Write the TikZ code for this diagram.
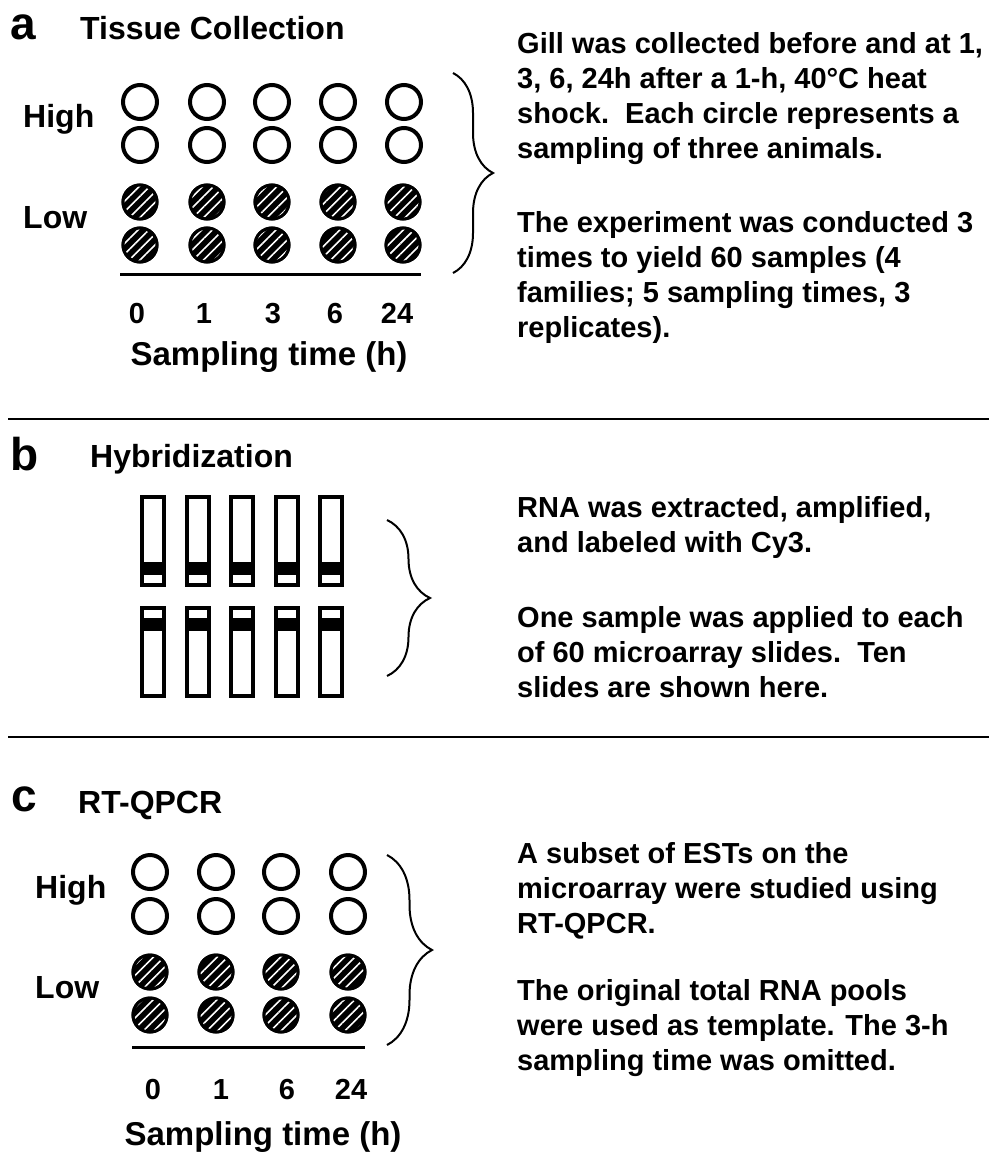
\documentclass[tikz,border=0pt]{standalone}
\usepackage{fontspec}
\setmainfont{Liberation Sans}
\usetikzlibrary{patterns.meta,decorations.pathreplacing}

\tikzset{
  opendot/.style={shape=circle, draw=black, line width=4pt, minimum size=34pt, inner sep=0pt},
  hatchdot/.style={shape=circle, draw=black, line width=3pt, fill=black, minimum size=34pt, inner sep=0pt,
    postaction={pattern={Lines[angle=45,distance=7.5pt,line width=1.6pt]}, pattern color=white},
    postaction={draw=black, line width=3pt}},
  slidetop/.style={draw=black, line width=4pt, minimum width=22pt, minimum height=88pt, inner sep=0pt,
    path picture={\fill[black] ([yshift=10pt]path picture bounding box.south west) rectangle ([yshift=23pt]path picture bounding box.south east);}},
  slidebot/.style={draw=black, line width=4pt, minimum width=22pt, minimum height=88pt, inner sep=0pt,
    path picture={\fill[black] ([yshift=-10pt]path picture bounding box.north west) rectangle ([yshift=-23pt]path picture bounding box.north east);}},
  lettr/.style={anchor=base west, inner sep=0pt, font=\fontsize{46pt}{46pt}\selectfont\bfseries},
  title/.style={anchor=base west, inner sep=0pt, font=\fontsize{32pt}{32pt}\selectfont\bfseries},
  rowlabel/.style={anchor=base west, inner sep=0pt, font=\fontsize{32pt}{32pt}\selectfont\bfseries},
  tick/.style={anchor=base, inner sep=0pt, font=\fontsize{29pt}{29pt}\selectfont\bfseries},
  axislabel/.style={anchor=base, inner sep=0pt, font=\fontsize{33pt}{33pt}\selectfont\bfseries},
  note/.style={anchor=north west, inner sep=0pt, align=left, font=\fontsize{29pt}{35pt}\selectfont\bfseries},
  curly/.style={decorate, line width=2pt},
  baseln/.style={line width=3pt},
  sepln/.style={line width=2pt}
}

\begin{document}
\begin{tikzpicture}[x=1pt,y=-1pt]
    \useasboundingbox (0,0) rectangle (989,1153);

    % panel a
    \node[lettr] (la) at (10,40) {a};
    \node[title] (ta) at (80,40) {Tissue Collection};
    \node[rowlabel] (ahigh) at (23,128) {High};
    \node[rowlabel] (alow) at (23,228) {Low};

    \node[opendot] (a0h1) at (140,102) {};
    \node[opendot] (a1h1) at (207,102) {};
    \node[opendot] (a3h1) at (272,102) {};
    \node[opendot] (a6h1) at (338,102) {};
    \node[opendot] (a24h1) at (404,102) {};
    \node[opendot] (a0h2) at (140,145) {};
    \node[opendot] (a1h2) at (207,145) {};
    \node[opendot] (a3h2) at (272,145) {};
    \node[opendot] (a6h2) at (338,145) {};
    \node[opendot] (a24h2) at (404,145) {};
    \node[hatchdot] (a0l1) at (140,202) {};
    \node[hatchdot] (a1l1) at (207,202) {};
    \node[hatchdot] (a3l1) at (272,202) {};
    \node[hatchdot] (a6l1) at (338,202) {};
    \node[hatchdot] (a24l1) at (403,202) {};
    \node[hatchdot] (a0l2) at (140,245) {};
    \node[hatchdot] (a1l2) at (207,245) {};
    \node[hatchdot] (a3l2) at (272,245) {};
    \node[hatchdot] (a6l2) at (338,245) {};
    \node[hatchdot] (a24l2) at (403,245) {};

    \coordinate (abase0) at (120,274);
    \coordinate (abase1) at (421,274);
    \draw[baseln] (abase0) -- (abase1);

    \node[tick] (at0) at (137,323) {0};
    \node[tick] (at1) at (204,323) {1};
    \node[tick] (at3) at (273,323) {3};
    \node[tick] (at6) at (335,323) {6};
    \node[tick] (at24) at (397,323) {24};
    \node[axislabel] (atime) at (269,365) {Sampling time (h)};

    \coordinate (abr0) at (453,73);
    \coordinate (abr1) at (453,273);
    \draw[curly, decoration={brace, amplitude=40pt}] (abr0) -- (abr1);

    \node[note] (anote1) at (517,32) {Gill was collected before and at 1,\\3, 6, 24h after a 1-h, 40°C heat\\shock.\ \ Each circle represents a\\sampling of three animals.};
    \node[note] (anote2) at (517,211) {The experiment was conducted 3\\times to yield 60 samples (4\\families; 5 sampling times, 3\\replicates).};

    \coordinate (sep1a) at (8,419);
    \coordinate (sep1b) at (989,419);
    \draw[sepln] (sep1a) -- (sep1b);

    % panel b
    \node[lettr] (lb) at (10,470) {b};
    \node[title] (tb) at (90,467) {Hybridization};

    \node[slidetop] (b0t) at (153,541) {};
    \node[slidetop] (b1t) at (198,541) {};
    \node[slidetop] (b3t) at (242,541) {};
    \node[slidetop] (b6t) at (287,541) {};
    \node[slidetop] (b24t) at (331,541) {};
    \node[slidebot] (b0b) at (153,652) {};
    \node[slidebot] (b1b) at (198,652) {};
    \node[slidebot] (b3b) at (242,652) {};
    \node[slidebot] (b6b) at (287,652) {};
    \node[slidebot] (b24b) at (331,652) {};

    \coordinate (bbr0) at (387,520);
    \coordinate (bbr1) at (387,676);
    \draw[curly, decoration={brace, amplitude=43pt}] (bbr0) -- (bbr1);

    \node[note] (bnote1) at (517,496) {RNA was extracted, amplified,\\and labeled with Cy3.};
    \node[note] (bnote2) at (517,606) {One sample was applied to each\\of 60 microarray slides.\ \ Ten\\slides are shown here.};

    \coordinate (sep2a) at (8,737);
    \coordinate (sep2b) at (989,737);
    \draw[sepln] (sep2a) -- (sep2b);

    % panel c
    \node[lettr] (lc) at (11,811) {c};
    \node[title] (tc) at (78,813) {RT-QPCR};
    \node[rowlabel] (chigh) at (35,898) {High};
    \node[rowlabel] (clow) at (35,998) {Low};

    \node[opendot] (c0h1) at (150,872) {};
    \node[opendot] (c1h1) at (216,872) {};
    \node[opendot] (c6h1) at (281,872) {};
    \node[opendot] (c24h1) at (348,872) {};
    \node[opendot] (c0h2) at (150,916) {};
    \node[opendot] (c1h2) at (216,916) {};
    \node[opendot] (c6h2) at (281,916) {};
    \node[opendot] (c24h2) at (348,916) {};
    \node[hatchdot] (c0l1) at (150,972) {};
    \node[hatchdot] (c1l1) at (216,972) {};
    \node[hatchdot] (c6l1) at (281,972) {};
    \node[hatchdot] (c24l1) at (348,972) {};
    \node[hatchdot] (c0l2) at (150,1015) {};
    \node[hatchdot] (c1l2) at (216,1015) {};
    \node[hatchdot] (c6l2) at (281,1015) {};
    \node[hatchdot] (c24l2) at (348,1015) {};

    \coordinate (cbase0) at (132,1047);
    \coordinate (cbase1) at (365,1047);
    \draw[baseln] (cbase0) -- (cbase1);

    \node[tick] (ct0) at (153,1099) {0};
    \node[tick] (ct1) at (221,1099) {1};
    \node[tick] (ct6) at (287,1099) {6};
    \node[tick] (ct24) at (351,1099) {24};
    \node[axislabel] (ctime) at (263,1145) {Sampling time (h)};

    \coordinate (cbr0) at (387,855);
    \coordinate (cbr1) at (387,1045);
    \draw[curly, decoration={brace, amplitude=45pt}] (cbr0) -- (cbr1);

    \node[note] (cnote1) at (517,842) {A subset of ESTs on the\\microarray were studied using\\RT-QPCR.};
    \node[note] (cnote2) at (517,979) {The original total RNA pools\\were used as template. The 3-h\\sampling time was omitted.};
\end{tikzpicture}
\end{document}
